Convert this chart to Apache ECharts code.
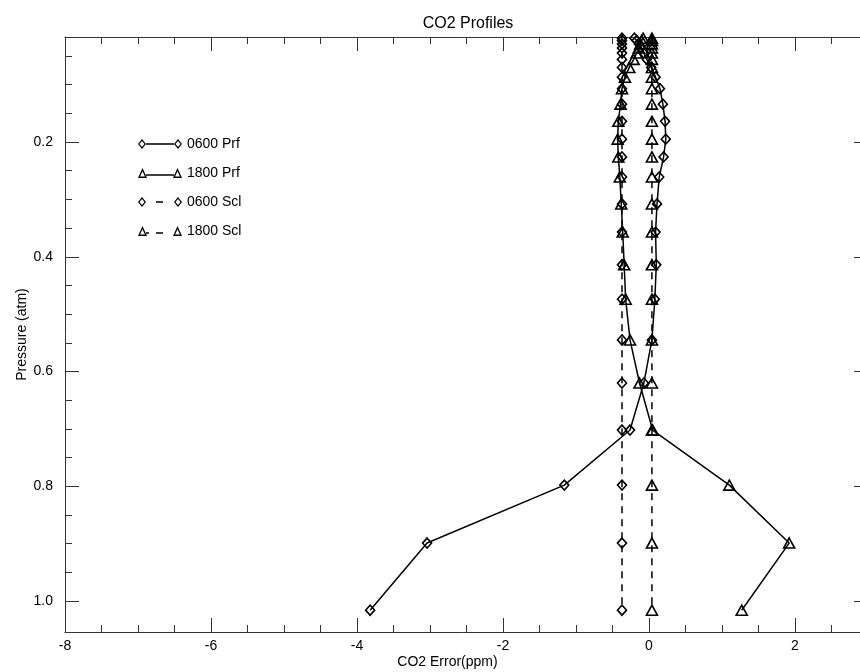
<!DOCTYPE html>
<html>
<head>
<meta charset="utf-8">
<title>CO2 Profiles</title>
<script src="https://cdn.jsdelivr.net/npm/echarts@6/dist/echarts.min.js"></script>
<style>
  html, body { margin: 0; padding: 0; background: #fff; }
  #chart { width: 860px; height: 672px; }
</style>
</head>
<body>
<div id="chart"></div>
<script>
// pressure levels (atm), top of the atmosphere first
var pressure = [0.019, 0.023, 0.029, 0.036, 0.045, 0.056, 0.070, 0.087, 0.107, 0.134,
                0.164, 0.195, 0.226, 0.261, 0.308, 0.357, 0.414, 0.474, 0.545, 0.620,
                0.702, 0.798, 0.899, 1.016];

// CO2 error (ppm) at each level
var prf0600 = [-0.20, -0.17, -0.14, -0.11, -0.07, -0.03, 0.03, 0.09, 0.15, 0.19,
               0.22, 0.23, 0.20, 0.14, 0.11, 0.09, 0.10, 0.08, 0.04, -0.07,
               -0.26, -1.16, -3.04, -3.82];
var prf1800 = [-0.08, -0.10, -0.12, -0.14, -0.17, -0.21, -0.27, -0.33, -0.37, -0.39,
               -0.42, -0.43, -0.42, -0.40, -0.38, -0.36, -0.34, -0.32, -0.26, -0.13,
               0.05, 1.10, 1.92, 1.27];
var scl0600 = [-0.37, -0.37, -0.37, -0.37, -0.37, -0.37, -0.37, -0.37, -0.37, -0.37,
               -0.37, -0.37, -0.37, -0.37, -0.37, -0.37, -0.37, -0.37, -0.37, -0.37,
               -0.37, -0.37, -0.37, -0.37];
var scl1800 = [0.04, 0.04, 0.04, 0.04, 0.04, 0.04, 0.04, 0.04, 0.04, 0.04,
               0.04, 0.04, 0.04, 0.04, 0.04, 0.04, 0.04, 0.04, 0.04, 0.04,
               0.04, 0.04, 0.04, 0.04];

var seriesNames = ['0600 Prf', '1800 Prf', '0600 Scl', '1800 Scl'];

// tick positions
var xMajorTicks = [-8, -6, -4, -2, 0, 2];
var xMinorTicks = [-7.5, -7, -6.5, -5.5, -5, -4.5, -3.5, -3, -2.5, -1.5, -1, -0.5,
                   0.5, 1, 1.5, 2.5];
var yMajorTicks = [0.2, 0.4, 0.6, 0.8, 1.0];
var yMinorTicks = [0.05, 0.1, 0.15, 0.25, 0.3, 0.35, 0.45, 0.5, 0.55, 0.65, 0.7, 0.75,
                   0.85, 0.9, 0.95];

var FONT = '"Liberation Sans", Arial, Helvetica, sans-serif';
var INK = '#000';
var AXIS = '#333';

function pairs(xs) {
  return xs.map(function (v, i) { return [v, pressure[i]]; });
}

var diamond = 'path://M0,-1L1,0L0,1L-1,0Z';

// legend icons: line with a symbol at each end (44 x 10)
var dRing = 'M4,0L8,5L4,10L0,5ZM4,1.9L1.5,5L4,8.1L6.5,5Z' +
            'M40,0L44,5L40,10L36,5ZM40,1.9L37.5,5L40,8.1L42.5,5Z';
var tRing = 'M0,10L4.5,0L9,10ZM2.1,8.6L6.9,8.6L4.5,3.3Z' +
            'M35,10L39.5,0L44,10ZM37.1,8.6L41.9,8.6L39.5,3.3Z';
var iconDSolid = 'path://' + dRing + 'M8,4.2L36,4.2L36,5.8L8,5.8Z';
var iconTSolid = 'path://' + tRing + 'M8,6.2L36,6.2L36,7.8L8,7.8Z';
var iconDDash = 'path://' + dRing + 'M18,4.2L25,4.2L25,5.8L18,5.8Z';
var iconTDash = 'path://' + tRing + 'M8,6.2L11,6.2L11,7.8L8,7.8Z' +
                'M18,6.2L25,6.2L25,7.8L18,7.8Z';

function makeSeries(name, xs, symbol, size, dashed) {
  return {
    name: name,
    type: 'line',
    xAxisIndex: 0,
    yAxisIndex: 0,
    data: pairs(xs),
    symbol: symbol,
    symbolSize: size,
    showAllSymbol: true,
    clip: true,
    lineStyle: { color: INK, width: 1.5, type: dashed ? [7, 6] : 'solid' },
    itemStyle: { color: 'rgba(0,0,0,0)', borderColor: INK, borderWidth: 1.6 },
    emphasis: { disabled: true },
    animation: false
  };
}

function xAxisOpt(pos, ticks, len, major) {
  return {
    type: 'value',
    position: pos,
    min: -8,
    max: 3,
    axisLine: { show: major, onZero: false, lineStyle: { color: AXIS, width: 1 } },
    axisTick: { show: true, inside: true, length: len, customValues: ticks,
                lineStyle: { color: AXIS, width: 1 } },
    axisLabel: { show: major && pos === 'bottom', customValues: ticks, margin: 7,
                 color: INK, fontSize: 14, fontFamily: FONT },
    splitLine: { show: false },
    name: major && pos === 'bottom' ? 'CO2 Error(ppm)' : '',
    nameLocation: 'middle',
    nameGap: 23,
    nameMoveOverlap: false,
    nameTextStyle: { color: INK, fontSize: 14, fontFamily: FONT, padding: [0, 38, 0, 0] }
  };
}

function yAxisOpt(pos, ticks, len, major) {
  return {
    type: 'value',
    position: pos,
    inverse: true,
    min: 0.017,
    max: 1.054,
    axisLine: { show: major, onZero: false, lineStyle: { color: AXIS, width: 1 } },
    axisTick: { show: true, inside: true, length: len, customValues: ticks,
                lineStyle: { color: AXIS, width: 1 } },
    axisLabel: { show: major && pos === 'left', customValues: ticks, margin: 12,
                 color: INK, fontSize: 14, fontFamily: FONT,
                 formatter: function (v) { return v.toFixed(1); } },
    splitLine: { show: false },
    name: major && pos === 'left' ? 'Pressure (atm)' : '',
    nameLocation: 'middle',
    nameGap: 36,
    nameMoveOverlap: false,
    nameTextStyle: { color: INK, fontSize: 14, fontFamily: FONT }
  };
}

var chart = echarts.init(document.getElementById('chart'));
chart.setOption({
  animation: false,
  backgroundColor: '#fff',
  title: {
    text: 'CO2 Profiles',
    left: 463,
    textAlign: 'center',
    top: 11,
    textStyle: { color: INK, fontSize: 16, fontWeight: 'normal', fontFamily: FONT }
  },
  legend: {
    orient: 'vertical',
    left: 133,
    top: 132,
    itemWidth: 44,
    itemHeight: 10,
    itemGap: 15,
    selectedMode: false,
    itemStyle: { color: INK, borderWidth: 0 },
    textStyle: { color: INK, fontSize: 14, fontFamily: FONT },
    data: [
      { name: seriesNames[0], icon: iconDSolid },
      { name: seriesNames[1], icon: iconTSolid },
      { name: seriesNames[2], icon: iconDDash },
      { name: seriesNames[3], icon: iconTDash }
    ]
  },
  grid: { left: 65, top: 37, width: 803, height: 595, outerBoundsMode: 'none' },
  xAxis: [
    xAxisOpt('bottom', xMajorTicks, 14, true),
    xAxisOpt('bottom', xMinorTicks, 7, false),
    xAxisOpt('top', xMajorTicks, 14, true),
    xAxisOpt('top', xMinorTicks, 7, false)
  ],
  yAxis: [
    yAxisOpt('left', yMajorTicks, 14, true),
    yAxisOpt('left', yMinorTicks, 7, false),
    yAxisOpt('right', yMajorTicks, 14, true),
    yAxisOpt('right', yMinorTicks, 7, false)
  ],
  series: [
    makeSeries(seriesNames[0], prf0600, diamond, [9, 10], false),
    makeSeries(seriesNames[1], prf1800, 'triangle', [11, 10], false),
    makeSeries(seriesNames[2], scl0600, diamond, [9, 10], true),
    makeSeries(seriesNames[3], scl1800, 'triangle', [11, 10], true)
  ]
});
</script>
</body>
</html>
